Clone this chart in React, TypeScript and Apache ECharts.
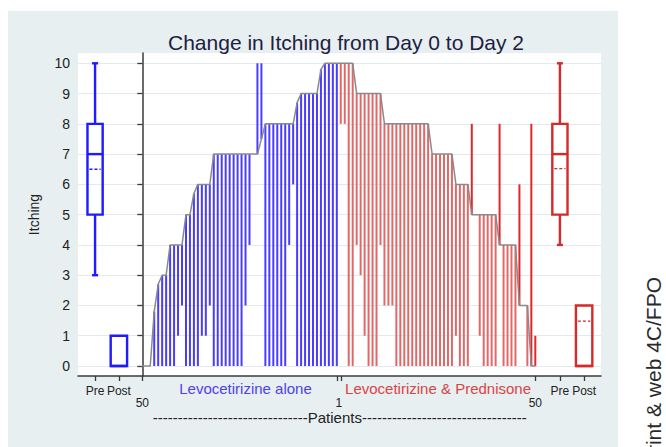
import React, { useEffect, useRef } from "react";
import * as echarts from "echarts";

const TITLE = "Change in Itching from Day 0 to Day 2";
const Y_NAME = "Itching";
const X_NAME = "Patients";
const GROUP_NAMES = ["Levocetirizine alone", "Levocetirizine & Prednisone"];
const SIDE_NOTE = "Print & web 4C/FPO";
const Y_TICKS = [0, 1, 2, 3, 4, 5, 6, 7, 8, 9, 10];
const BOX_LABELS = ["Pre", "Post"];
const PATIENT_LABELS = ["50", "1", "50"];

// Levocetirizine alone: patients shown from #50 (left) to #1 (centre), sorted by Day 0 score
const alonePre = [0, 0, 0, 1.8, 2.7, 3, 3, 4, 4, 4, 4, 5, 5, 5.7, 6, 6, 6, 6, 7, 7, 7, 7, 7, 7, 7, 7, 7, 7, 7, 7, 7.5, 8, 8, 8, 8, 8, 8, 8, 8, 8.7, 9, 9, 9, 9, 9, 9.8, 10, 10, 10, 10];
const alonePost = [0, 0, 0, 0, 0, 0, 0, 0, 0, 1, 2, 0, 0, 0, 0, 1, 1, 2, 0, 0, 0, 0, 0, 0, 0, 0, 2, 4, 7, 10, 10, 0, 0, 0, 0, 0, 0, 4, 6, 0, 0, 0, 0, 0, 0, 0, 0, 0, 0, 0];
// Levocetirizine & Prednisone: patients shown from #1 (centre) to #50 (right)
const predPre = [10, 10, 10, 10, 9, 9, 9, 9, 9, 9, 9, 8, 8, 8, 8, 8, 8, 8, 8, 8, 8, 8, 8, 7, 7, 7, 7, 7, 7, 6, 6, 6, 6, 5, 5, 5, 5, 5, 5, 5, 4, 4, 4, 4, 4, 2, 2, 2, 0, 0];
const predPost = [8, 8, 0, 0, 4, 3, 1, 0, 0, 0, 4, 2, 2, 2, 0, 0, 0, 0, 0, 0, 0, 0, 0, 0, 0, 0, 0, 0, 0, 1, 0, 0, 0, 8, 5, 1, 0, 0, 0, 0, 8, 0, 0, 0, 0, 6, 2, 0, 8, 1];

// Box summaries [min, q1, median, q3, max, mean] for Pre and Post
const aloneBoxes = [
  [3, 5, 7, 8, 10, 6.5],
  [0, 0, 0, 1, 1, 1.0],
];
const predBoxes = [
  [4, 5, 7, 8, 10, 6.52],
  [0, 0, 0, 2, 2, 1.48],
];

// layout (x-axis units: one patient slot)
const ALONE_BOX_X = [-11.9, -5.9];
const PRED_BOX_X = [105.2, 111.3];
const PRED_OFFSET = 50;
const PATIENT_LABEL_X = [0, 49.5, 99];
const PATIENT_TICK_X = [0, 49, 50, 99];

const BLUE = "#4a3cff";
const BLUE_BOX = "#1f1aff";
const RED = "#e26868";
const RED_UP = "#e3262c";
const RED_BOX = "#d42a2a";
const FONT = "'Liberation Sans', Arial, sans-serif";

function spikeRender(color: string, upColor: string) {
  return (params: any, api: any) => {
    const x = api.value(0);
    const pre = api.value(1);
    const post = api.value(2);
    if (pre === post) return null;
    const a = api.coord([x, pre]);
    const b = api.coord([x, post]);
    return {
      type: "line",
      shape: { x1: a[0], y1: a[1], x2: b[0], y2: b[1] },
      style: { stroke: post > pre ? upColor : color, lineWidth: 2 },
    };
  };
}

function boxRender(color: string) {
  return (params: any, api: any) => {
    const x = api.value(0);
    const mn = api.value(1), q1 = api.value(2), md = api.value(3), q3 = api.value(4), mx = api.value(5), mean = api.value(6);
    const hw = params.dataIndex === 0 ? 7.6 : 8.2;
    const cx = api.coord([x, md])[0];
    const y = (v: number) => api.coord([x, v])[1];
    const lw = 2.4;
    const st = { stroke: color, lineWidth: lw, fill: "none" };
    const children: any[] = [];
    if (mx > q3) {
      children.push({ type: "line", shape: { x1: cx, y1: y(q3), x2: cx, y2: y(mx) }, style: st });
      children.push({ type: "line", shape: { x1: cx - 3, y1: y(mx), x2: cx + 3, y2: y(mx) }, style: st });
    }
    if (mn < q1) {
      children.push({ type: "line", shape: { x1: cx, y1: y(q1), x2: cx, y2: y(mn) }, style: st });
      children.push({ type: "line", shape: { x1: cx - 3, y1: y(mn), x2: cx + 3, y2: y(mn) }, style: st });
    }
    children.push({ type: "rect", shape: { x: cx - hw, y: y(q3), width: hw * 2, height: y(q1) - y(q3) }, style: st });
    children.push({ type: "line", shape: { x1: cx - hw, y1: y(md), x2: cx + hw, y2: y(md) }, style: st });
    children.push({
      type: "line",
      shape: { x1: cx - hw + 2, y1: y(mean), x2: cx + hw - 2, y2: y(mean) },
      style: { stroke: color, lineWidth: 1.3, lineDash: [3, 2] },
    });
    return { type: "group", children };
  };
}

export default function App() {
  const ref = useRef<HTMLDivElement>(null);
  useEffect(() => {
    if (!ref.current) return;
    const chart = echarts.init(ref.current, null, { renderer: "svg" });
    const xLabelVals = [...ALONE_BOX_X, ...PATIENT_LABEL_X, ...PRED_BOX_X];
    const xLabelTexts = [...BOX_LABELS, ...PATIENT_LABELS.map((s) => "\n" + s), ...BOX_LABELS];
    const xTickVals = [...ALONE_BOX_X, ...PATIENT_TICK_X, ...PRED_BOX_X];

    const lineData = [
      ...alonePre.map((v, k) => [k, v]),
      ...predPre.map((v, j) => [PRED_OFFSET + j, v]),
    ];

    chart.setOption({
      animation: false,
      backgroundColor: "#ffffff",
      textStyle: { fontFamily: FONT },
      title: {
        text: TITLE,
        left: 341,
        top: 27,
        textAlign: "center",
        textStyle: { fontSize: 21, fontWeight: "normal", color: "#1e2040", fontFamily: FONT },
      },
      grid: { left: 78, right: 65, top: 53, bottom: 71, show: true, backgroundColor: "#ffffff", borderWidth: 0 },
      xAxis: {
        type: "value",
        min: -16.2,
        max: 115.55,
        axisLine: { show: true, onZero: false, lineStyle: { color: "#3a3a3a", width: 1.5 } },
        axisTick: { show: true, customValues: xTickVals, length: 5, lineStyle: { color: "#3a3a3a", width: 1.3 } },
        axisLabel: {
          show: true,
          customValues: xLabelVals,
          margin: 9,
          fontSize: 12,
          lineHeight: 12,
          color: "#222",
          fontFamily: FONT,
          formatter: (v: number) => {
            const i = xLabelVals.findIndex((u) => Math.abs(u - v) < 1e-6);
            return i >= 0 ? xLabelTexts[i] : "";
          },
        },
        splitLine: { show: false },
      },
      yAxis: {
        type: "value",
        min: -0.33,
        max: 10.34,
        name: Y_NAME,
        nameLocation: "middle",
        nameGap: 37,
        nameTextStyle: { fontSize: 14, color: "#222", fontFamily: FONT },
        axisLine: { show: true, lineStyle: { color: "#3a3a3a", width: 1.5 } },
        axisTick: { show: true, customValues: Y_TICKS, length: 5, lineStyle: { color: "#3a3a3a", width: 1.3 } },
        axisLabel: { show: true, customValues: Y_TICKS, margin: 8, fontSize: 14, color: "#222", fontFamily: FONT },
        splitLine: { show: true, lineStyle: { color: "#e3eaee", width: 1 } },
      },
      series: [
        {
          type: "custom",
          name: GROUP_NAMES[0],
          renderItem: spikeRender(BLUE, BLUE),
          encode: { x: 0, y: [1, 2] },
          data: alonePre.map((v, k) => [k, v, alonePost[k]]),
          z: 2,
        },
        {
          type: "custom",
          name: GROUP_NAMES[1],
          renderItem: spikeRender(RED, RED_UP),
          encode: { x: 0, y: [1, 2] },
          data: predPre.map((v, j) => [PRED_OFFSET + j, v, predPost[j]]),
          z: 2,
        },
        {
          type: "line",
          data: lineData,
          symbol: "none",
          lineStyle: { color: "#8a8a8a", width: 1.5 },
          z: 3,
        },
        {
          type: "custom",
          renderItem: boxRender(BLUE_BOX),
          encode: { x: 0, y: [1, 2, 3, 4, 5] },
          data: aloneBoxes.map((b, i) => [ALONE_BOX_X[i], ...b]),
          z: 4,
        },
        {
          type: "custom",
          renderItem: boxRender(RED_BOX),
          encode: { x: 0, y: [1, 2, 3, 4, 5] },
          data: predBoxes.map((b, i) => [PRED_BOX_X[i], ...b]),
          z: 4,
        },
      ],
    });

    const px = (v: number) => chart.convertToPixel({ xAxisIndex: 0 }, v) as number;
    const dashes = (n: number) => "-".repeat(n);
    chart.setOption({
      graphic: [
        { type: "rect", z: -10, shape: { x: 8, y: 11, width: 610, height: 440 }, style: { fill: "#e7eff1" } },
        {
          type: "text",
          x: px(26),
          y: 388,
          style: { text: GROUP_NAMES[0], textAlign: "center", textVerticalAlign: "middle", fontSize: 15, fontFamily: FONT, fill: "#4f3fee" },
        },
        {
          type: "text",
          x: px(74.5),
          y: 388,
          style: { text: GROUP_NAMES[1], textAlign: "center", textVerticalAlign: "middle", fontSize: 15, fontFamily: FONT, fill: "#d94545" },
        },
        {
          type: "text",
          x: px(49.75),
          y: 417,
          style: { text: dashes(31) + X_NAME + dashes(33), textAlign: "center", textVerticalAlign: "middle", fontSize: 15, fontFamily: FONT, fill: "#222" },
        },
        {
          type: "text",
          x: 653,
          y: 277,
          rotation: Math.PI / 2,
          style: { text: SIDE_NOTE, textAlign: "right", textVerticalAlign: "middle", fontSize: 21, fontFamily: FONT, fill: "#2a2a2a" },
        },
      ],
    });

    return () => chart.dispose();
  }, []);
  return <div ref={ref} style={{ position: "fixed", left: 0, top: 0, width: 666, height: 447 }} />;
}
